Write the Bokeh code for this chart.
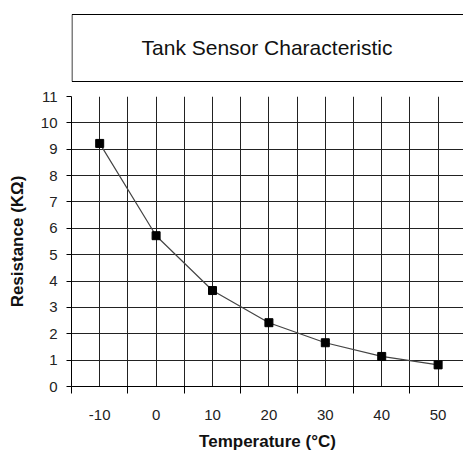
from bokeh.plotting import figure
from bokeh.layouts import column
from bokeh.models import Range1d, FixedTicker
from bokeh.core.properties import value
from bokeh.embed import file_html
from bokeh.resources import INLINE

# ---- data ----
temperature = [-10, 0, 10, 20, 30, 40, 50]
resistance = [9.22, 5.72, 3.64, 2.42, 1.66, 1.14, 0.82]
x_tick_labels = [-10, 0, 10, 20, 30, 40, 50]
x_between_ticks = [-15, -5, 5, 15, 25, 35, 45, 55]
y_ticks = list(range(0, 12))
title_text = "Tank Sensor Characteristic"
x_label = "Temperature (°C)"
y_label = "Resistance (KΩ)"

FONT = "Liberation Sans"
W = 463

# ---- title box figure ----
t = figure(width=W, height=88, output_backend="svg", toolbar_location=None,
           x_axis_type=None, y_axis_type=None,
           x_range=Range1d(-0.5, 391.5), y_range=Range1d(-3, 69),
           min_border_left=71, min_border_right=0, min_border_top=12, min_border_bottom=4)
t.outline_line_color = None
t.border_fill_color = "white"
t.background_fill_color = "white"
t.xgrid.visible = False
t.ygrid.visible = False
t.segment(x0=[0, 0, 0], y0=[0, 67, 0], x1=[400, 400, 0], y1=[0, 67, 67],
          line_color="black", line_width=1)
t.text(x=[195], y=[34], text=[title_text], text_font=value(FONT),
       text_font_size="21px", text_align="center", text_baseline="middle",
       text_color="#111111")

# ---- main plot ----
p = figure(width=W, height=367, output_backend="svg", toolbar_location=None,
           x_range=Range1d(-15, 54.5), y_range=Range1d(0, 11),
           min_border_left=71, min_border_right=0, min_border_top=8, min_border_bottom=69)
p.outline_line_color = None
p.background_fill_color = "white"
p.border_fill_color = "white"

p.xaxis.ticker = FixedTicker(ticks=x_tick_labels, minor_ticks=x_between_ticks)
p.yaxis.ticker = FixedTicker(ticks=y_ticks, minor_ticks=[])
p.xaxis.major_label_overrides = {v: str(v) for v in x_tick_labels}

for ax in (p.xaxis, p.yaxis):
    ax.axis_line_color = "black"
    ax.axis_line_width = 1
    ax.major_label_text_font = FONT
    ax.major_label_text_font_size = "15px"
    ax.major_label_text_color = "#222222"
    ax.axis_label_text_font = FONT
    ax.axis_label_text_font_size = "17px"
    ax.axis_label_text_font_style = "bold"
    ax.axis_label_text_color = "#111111"

p.xaxis.major_tick_out = 0
p.xaxis.major_tick_in = 0
p.xaxis.minor_tick_out = 7
p.xaxis.minor_tick_in = 0
p.xaxis.minor_tick_line_color = "black"
p.xaxis.major_label_standoff = 16
p.xaxis.axis_label = x_label
p.xaxis.axis_label_standoff = 9

p.yaxis.major_tick_out = 5
p.yaxis.major_tick_in = 0
p.yaxis.major_tick_line_color = "black"
p.yaxis.minor_tick_line_color = None
p.yaxis.major_label_standoff = 9
p.yaxis.axis_label = y_label
p.yaxis.axis_label_standoff = 11

p.xgrid.grid_line_color = "#222222"
p.xgrid.grid_line_alpha = 1
p.xgrid.minor_grid_line_color = "#222222"
p.xgrid.minor_grid_line_alpha = 1
p.ygrid.grid_line_color = "#222222"
p.ygrid.grid_line_alpha = 1

p.line(temperature, resistance, line_color="#444444", line_width=1.2)
p.scatter(temperature, resistance, marker="square", size=8,
          fill_color="black", line_color="black")

layout = column(t, p, spacing=0)
open("out.html", "w").write(file_html(layout, INLINE))
